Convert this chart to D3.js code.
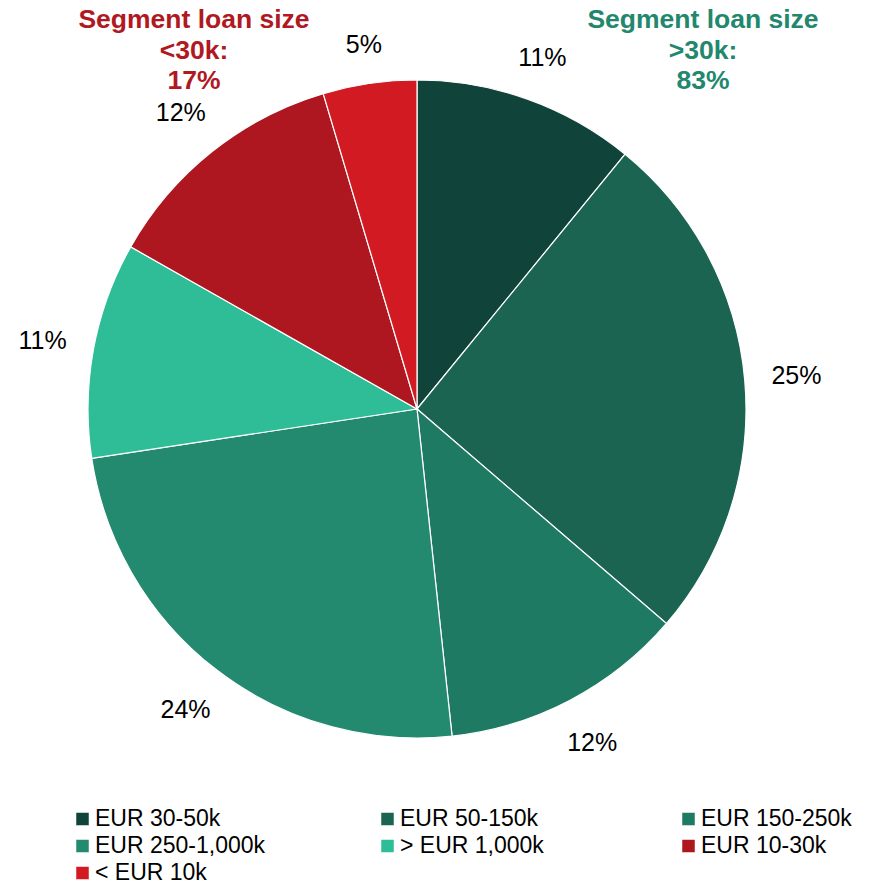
<!DOCTYPE html>
<html>
<head>
<meta charset="utf-8">
<script src="https://cdn.jsdelivr.net/npm/d3@7"></script>
<style>
  body { margin: 0; background: #fff; }
  svg text { font-family: "Liberation Sans", Arial, sans-serif; }
</style>
</head>
<body>
<svg id="chart" width="873" height="888"></svg>
<script>
const categories = ['EUR 30-50k', 'EUR 50-150k', 'EUR 150-250k', 'EUR 250-1,000k', '> EUR 1,000k', 'EUR 10-30k', '< EUR 10k'];
const shares = [10.9, 25.4, 12.0, 24.3, 10.6, 12.2, 4.6];
const colors = ['#10443a', '#1b6452', '#1f7a63', '#238a70', '#2ebd97', '#ae1620', '#d21a22'];
const smallTitle = ['Segment loan size', '<30k:', '17%'];
const largeTitle = ['Segment loan size', '>30k:', '83%'];

const svg = d3.select('#chart');
const cx = 417, cy = 409, radius = 329;
const labelGap = 26;

const data = categories.map((c, i) => ({ name: c, value: shares[i], color: colors[i] }));

const pie = d3.pie().value((d) => d.value).sort(null);
const arc = d3.arc().innerRadius(0).outerRadius(radius);

const g = svg.append('g').attr('transform', `translate(${cx},${cy})`);
const arcs = pie(data);

g.selectAll('path')
    .data(arcs)
    .enter()
    .append('path')
    .attr('d', arc)
    .attr('fill', (d) => d.data.color)
    .attr('stroke', '#ffffff')
    .attr('stroke-width', 1.2);

// labels sit outside the pie, pushed out by half their box
g.selectAll('.lbl')
    .data(arcs)
    .enter()
    .append('text')
    .attr('class', 'lbl')
    .attr('text-anchor', 'middle')
    .attr('dy', '0.35em')
    .attr('font-size', 25)
    .attr('fill', '#000')
    .text((d) => `${Math.round(d.data.value)}%`)
    .each(function (d) {
        const box = this.getBBox();
        const a = (d.startAngle + d.endAngle) / 2;
        const s = Math.sin(a), c = Math.cos(a);
        const extra = Math.abs(s) * box.width / 2 + Math.abs(c) * box.height / 2 * 0.8;
        const r = radius + labelGap + extra;
        d3.select(this).attr('transform', `translate(${s * r},${-c * r})`);
    });

// segment titles
function title(lines, x, color) {
    svg.append('text')
        .attr('x', x)
        .attr('y', 28)
        .attr('text-anchor', 'middle')
        .attr('font-size', 26.5)
        .attr('font-weight', 'bold')
        .attr('fill', color)
        .selectAll('tspan')
        .data(lines)
        .enter()
        .append('tspan')
        .attr('x', x)
        .attr('dy', (d, i) => (i === 0 ? 0 : 30.5))
        .text((d) => d);
}
title(smallTitle, 194, '#b0191f');
title(largeTitle, 703, '#22876c');

// legend
const colX = [76, 381, 682];
const rowY = [819, 846, 873];
const legend = svg
    .selectAll('.legend')
    .data(data)
    .enter()
    .append('g')
    .attr('class', 'legend')
    .attr('transform', (d, i) => `translate(${colX[i % 3]},${rowY[Math.floor(i / 3)]})`);

legend
    .append('rect')
    .attr('x', 0)
    .attr('y', -6.5)
    .attr('width', 13)
    .attr('height', 13)
    .attr('fill', (d) => d.color)
    .attr('stroke', '#fff')
    .attr('stroke-width', 0.5);

legend
    .append('text')
    .attr('x', 19)
    .attr('y', 7)
    .attr('font-size', 23)
    .attr('fill', '#000')
    .text((d) => d.name);
</script>
</body>
</html>
